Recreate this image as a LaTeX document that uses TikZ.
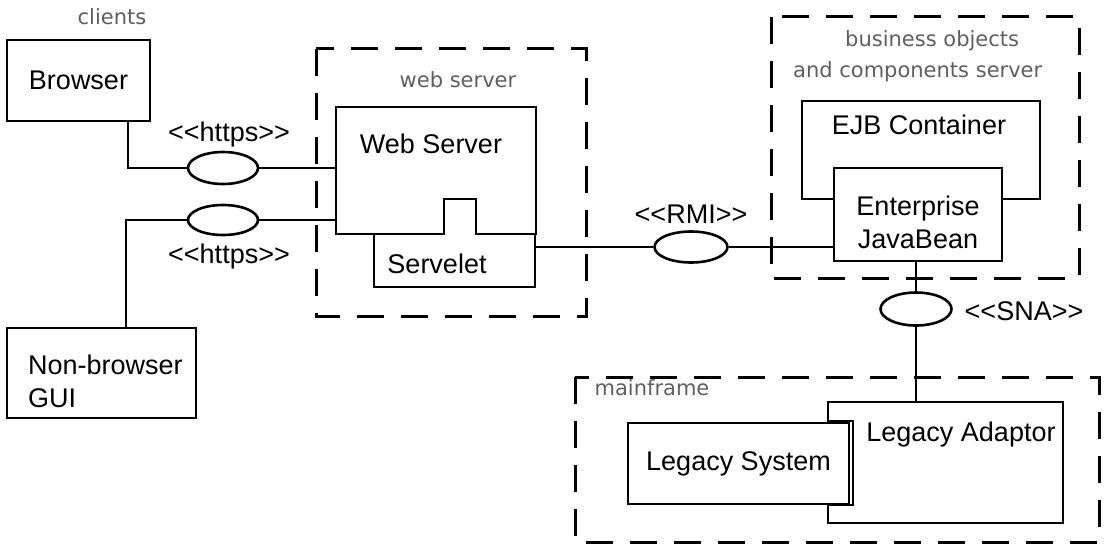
\documentclass[tikz,border=0pt]{standalone}
\usepackage{fontspec}
\setmainfont{Liberation Sans}
\newfontfamily\thinfont{DejaVu Sans}
\usetikzlibrary{shapes.geometric}
\definecolor{lblgray}{RGB}{95,95,95}

\begin{document}
\begin{tikzpicture}[x=1pt,y=1pt,yscale=-1,
  comp/.style={draw,fill=white,line width=2pt,inner sep=0pt},
  iface/.style={draw,ellipse,fill=white,line width=2.6pt,inner sep=0pt},
  grp/.style={draw,line width=3pt,dash pattern=on 27pt off 17pt},
  grplbl/.style={font=\thinfont\fontsize{21}{31}\selectfont,text=lblgray,inner sep=0pt},
  txt/.style={font=\fontsize{27}{33}\selectfont,inner sep=0pt},
  conn/.style={line width=2pt}]
\useasboundingbox (0,0) rectangle (1107,551);

%Shape: groups
\draw [grp] (316,49) rectangle (586,316);
\draw [grp] (771,17) rectangle (1079,278);
\draw [grp] (575,377) rectangle (1099,542);

% Text Node
\node [grplbl] (clientslbl) at (112,17) {clients};
% Text Node
\node [grplbl] (weblbl) at (458,80) {web server};
% Text Node
\node [grplbl,anchor=west] (bizlbla) at (845,41) {business objects};
% Text Node
\node [grplbl,anchor=west] (bizlblb) at (793,72) {and components server};
% Text Node
\node [grplbl] (mainlbl) at (652,388) {mainframe};

%Shape: clients
\node [comp,minimum width=143,minimum height=81,txt] (browser) at (78.5,80.5) {Browser};
\node [comp,minimum width=189,minimum height=90] (gui) at (101.5,373) {};
\node [txt,align=left,anchor=west] (guilbl) at (28,381) {Non-browser\\GUI};

%Shape: web server with servelet
\node [minimum width=200,minimum height=127,inner sep=0pt] (websrv) at (436,170.5) {};
\node [minimum width=161,minimum height=53,inner sep=0pt] (servelet) at (454.5,260.5) {};
\draw [line width=2pt] (websrv.north west) -- (websrv.north east) -- (websrv.south east) -- ++(-60,0) -- ++(0,-35) -- ++(-32,0) -- ++(0,35) -- (websrv.south west) -- cycle;
\draw [line width=2pt] (servelet.north west) -- (servelet.south west) -- (servelet.south east) -- (servelet.north east);
\node [txt] (websrvlbl) at (431,144) {Web Server};
\node [txt] (serveletlbl) at (437,264) {Servelet};

%Shape: EJB
\node [comp,minimum width=238,minimum height=98] (ejbc) at (921,150) {};
\node [txt] (ejbclbl) at (919,125) {EJB Container};
\node [comp,minimum width=168,minimum height=93] (ejb) at (918,214.5) {};
\node [txt,align=center] (ejblbl) at (918,222) {Enterprise\\JavaBean};

%Shape: legacy
\node [comp,minimum width=235,minimum height=121] (legada) at (945.5,462.5) {};
\node [txt] (legadalbl) at (961,435) {Legacy Adaptor};
\draw [comp] (830,421) rectangle (853,505);
\node [comp,minimum width=221,minimum height=81,txt] (legsys) at (738.5,463.5) {Legacy System};

%Shape: interfaces
\node [iface,minimum width=70,minimum height=32] (https1) at (223,168) {};
\node [iface,minimum width=70,minimum height=30] (https2) at (223,220) {};
\node [iface,minimum width=73,minimum height=31] (rmi) at (691,247) {};
\node [iface,minimum width=71,minimum height=33] (sna) at (916,309) {};

% Text Node
\node [txt] (https1lbl) at (229,135) {<{}<https>{}>};
\node [txt] (https2lbl) at (229,257) {<{}<https>{}>};
\node [txt] (rmilbl) at (691,214) {<{}<RMI>{}>};
\node [txt] (snalbl) at (1024,311) {<{}<SNA>{}>};

%Straight Lines
\draw [conn] (browser.south east) ++(-23,0) |- (https1.west);
\draw [conn] (https1.east) -- (https1.east -| websrv.west);
\draw [conn] (https2.east) -- (https2.east -| websrv.west);
\draw [conn] (gui.north west) ++(120,0) |- (https2.west);
\draw [conn] (rmi.west -| servelet.east) -- (rmi.west);
\draw [conn] (rmi.east) -- (rmi.east -| ejb.west);
\draw [conn] (sna.north |- ejb.south) -- (sna.north);
\draw [conn] (sna.south) -- (sna.south |- legada.north);

\end{tikzpicture}
\end{document}
